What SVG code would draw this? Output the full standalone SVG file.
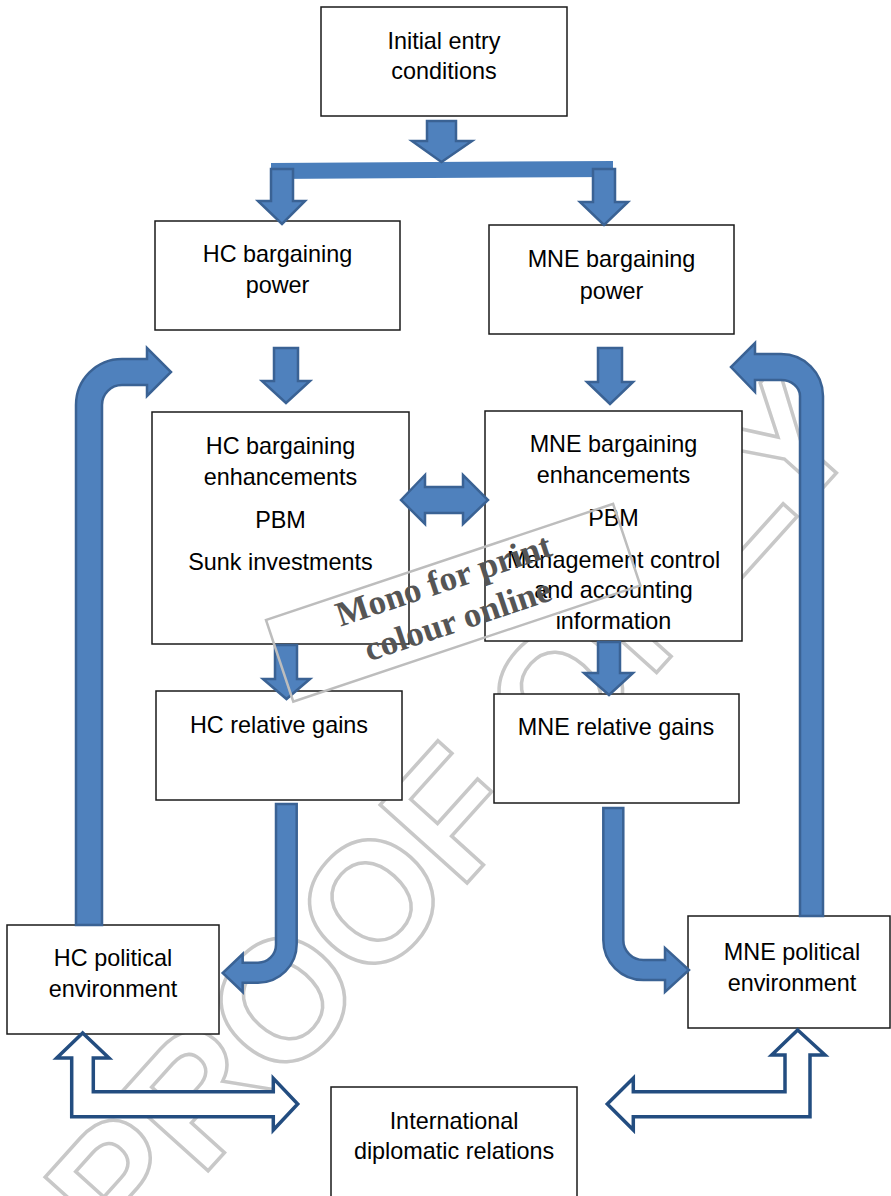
<svg xmlns="http://www.w3.org/2000/svg" width="891" height="1196" viewBox="0 0 891 1196">
<style>
.box{fill:#fff;stroke:#1a1a1a;stroke-width:1.5}
.t{font-family:"Liberation Sans",Arial,sans-serif;font-size:23.4px;fill:#000;text-anchor:middle}
.blk{fill:#4f81bd;stroke:#3a6294;stroke-width:2.5;stroke-linejoin:miter}
.out{fill:#fff;stroke:#234d80;stroke-width:3.5;stroke-linejoin:miter}
.wm{font-family:"Liberation Sans",Arial,sans-serif;font-size:170px;font-weight:bold;fill:none;stroke:#c8c8c8;stroke-width:3.5;text-anchor:middle}
.st{font-family:"Liberation Serif","Times New Roman",serif;font-size:35px;font-weight:bold;fill:#555;text-anchor:middle}
</style>
<g id="watermark">
<text class="wm" transform="translate(450,811) rotate(-48)" x="0" y="61">PROOF ONLY</text>
</g>
<g id="n-initial"><rect class="box" x="321" y="7" width="246" height="109"/><text class="t" x="444" y="49">Initial entry</text><text class="t" x="444" y="79">conditions</text></g>
<g id="n-hc-power"><rect class="box" x="155" y="221" width="245" height="109"/><text class="t" x="277.5" y="262">HC bargaining</text><text class="t" x="277.5" y="293">power</text></g>
<g id="n-mne-power"><rect class="box" x="489" y="225" width="245" height="109"/><text class="t" x="611.5" y="267">MNE bargaining</text><text class="t" x="611.5" y="299">power</text></g>
<g id="n-hc-enh"><rect class="box" x="152" y="412" width="257" height="232"/><text class="t" x="280.5" y="454">HC bargaining</text><text class="t" x="280.5" y="485">enhancements</text><text class="t" x="280.5" y="528">PBM</text><text class="t" x="280.5" y="570">Sunk investments</text></g>
<g id="n-mne-enh"><rect class="box" x="485" y="411" width="257" height="230"/><text class="t" x="613.5" y="452">MNE bargaining</text><text class="t" x="613.5" y="483">enhancements</text><text class="t" x="613.5" y="526">PBM</text><text class="t" x="613.5" y="568">Management control</text><text class="t" x="613.5" y="598">and accounting</text><text class="t" x="613.5" y="629">information</text></g>
<g id="n-hc-gains"><rect class="box" x="156" y="691" width="246" height="109"/><text class="t" x="279" y="733">HC relative gains</text></g>
<g id="n-mne-gains"><rect class="box" x="494" y="694" width="245" height="109"/><text class="t" x="616" y="735">MNE relative gains</text></g>
<g id="n-hc-pol"><rect class="box" x="7" y="925" width="212" height="109"/><text class="t" x="113" y="966">HC political</text><text class="t" x="113" y="997">environment</text></g>
<g id="n-mne-pol"><rect class="box" x="688" y="916" width="202" height="112"/><text class="t" x="792" y="960">MNE political</text><text class="t" x="792" y="991">environment</text></g>
<g id="n-intl"><rect class="box" x="331" y="1087" width="246" height="115"/><text class="t" x="454" y="1129">International</text><text class="t" x="454" y="1159">diplomatic relations</text></g>
<g id="connectors">
<polygon points="271,163 613,161 613,177 271,179" fill="#4a7ebb"/>
<path class="blk" d="M427,121 L456,121 L456,141 L472,141 L441.5,162 L412,141 L427,141 Z"/>
<path class="blk" d="M271,169 L293,169 L293,201 L305,201 L282,224 L258,201 L271,201 Z"/>
<path class="blk" d="M593,169 L615,169 L615,202 L628,202 L604,225 L580,202 L593,202 Z"/>
<path class="blk" d="M274,348 L298,348 L298,381 L310,381 L286,403 L262,381 L274,381 Z"/>
<path class="blk" d="M598,348 L622,348 L622,382 L633,382 L610,404 L587,382 L598,382 Z"/>
<path class="blk" d="M275,645 L297,645 L297,679 L310,679 L286.5,699 L263,679 L275,679 Z"/>
<path class="blk" d="M598,642 L620,642 L620,673 L633,673 L609,695 L584,673 L598,673 Z"/>
<path class="blk" d="M401,500 L425,475 L425,487 L463,487 L463,475 L488,500 L463,524 L463,513 L425,513 L425,524 Z"/>
<path class="blk" d="M276,804 L296.7,804 L296.7,944 A38.7,38.7 0 0 1 258,982.7 L242.7,982.7 L242.7,992 L222.7,973 L242.7,954 L242.7,962.7 L258,962.7 A18,18 0 0 0 276,944.7 Z"/>
<path class="blk" d="M603.3,808 L623.3,808 L623.3,940 A20,20 0 0 0 643.3,960 L665,960 L665,948 L689,970 L665,992 L665,980 L643.3,980 A40,40 0 0 1 603.3,940 Z"/>
<path class="blk" d="M76,925 L76,405 A46,46 0 0 1 122,359 L147,359 L147,348 L171,372 L147,396 L147,385 L122,385 A20,20 0 0 0 102,405 L102,925 Z"/>
<path class="blk" d="M800,916 L800,396 A19,16 0 0 0 781,380 L755,380 L755,392 L731,367 L755,343 L755,354 L781,354 A42,42 0 0 1 823,396 L823,916 Z"/>
<path class="out" d="M82.7,1033 L109,1058 L93.3,1058 L93.3,1091.7 L273.3,1091.7 L273.3,1078.3 L297.7,1104 L273.3,1130 L273.3,1116.7 L71.7,1116.7 L71.7,1058 L56.7,1058 Z"/>
<path class="out" d="M797.7,1030 L825,1055 L810,1055 L810,1116.7 L633.3,1116.7 L633.3,1130 L607.3,1104 L633.3,1078.3 L633.3,1091.7 L785,1091.7 L785,1055 L771.7,1055 Z"/>
</g>
<g id="stamp" transform="translate(266,620) rotate(-18.5)">
<rect x="0" y="0" width="366" height="86" fill="none" stroke="#bdbdbd" stroke-width="2.5"/>
<text class="st" x="181" y="30">Mono for print</text>
<text class="st" x="182" y="72">colour online</text>
</g>
</svg>
